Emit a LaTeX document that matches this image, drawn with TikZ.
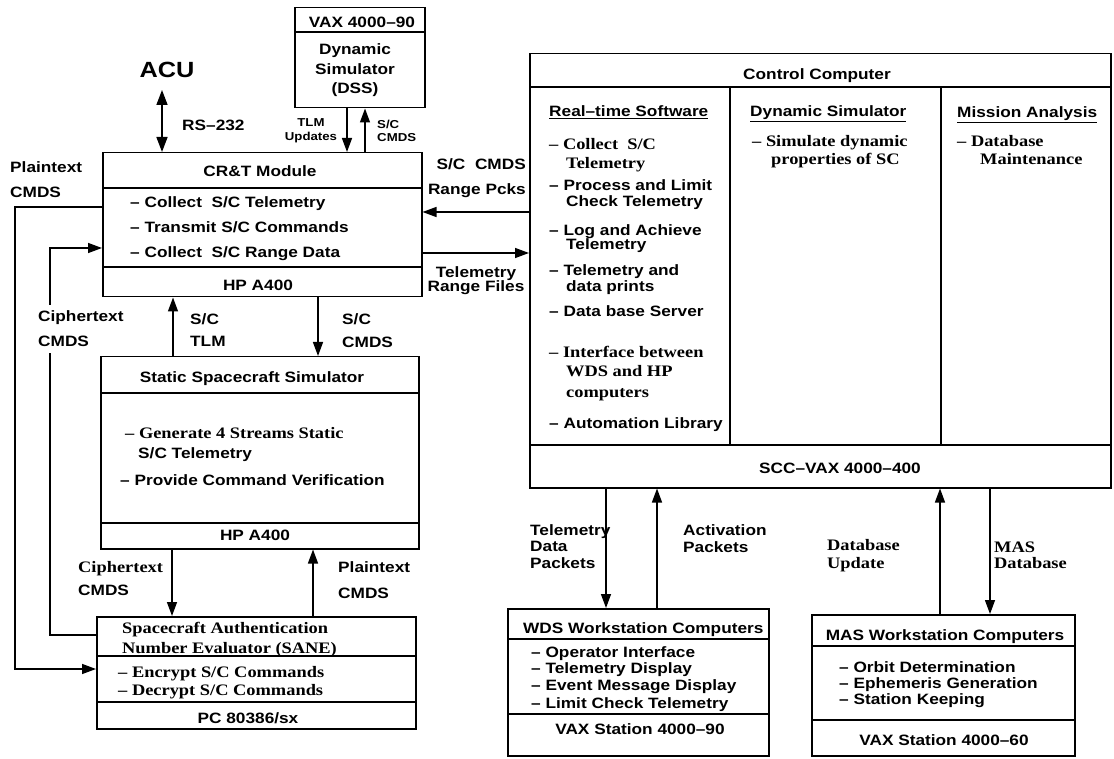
\documentclass[tikz,border=0pt]{standalone}
\usepackage{fontspec}
\newfontfamily\hv[FakeStretch=1.15]{Liberation Sans}
\newfontfamily\tm[FakeStretch=1.15]{Liberation Serif}
\usetikzlibrary{arrows.meta}
\begin{document}
\begin{tikzpicture}[x=1pt,y=-1pt,
  sf/.style={font=\hv\bfseries\fontsize{15}{17}\selectfont, inner sep=0pt},
  rm/.style={font=\tm\bfseries\fontsize{16}{18}\selectfont, inner sep=0pt},
  sm/.style={font=\hv\bfseries\fontsize{11.5}{13}\selectfont, inner sep=0pt},
  big/.style={font=\hv\bfseries\fontsize{22}{24}\selectfont, inner sep=0pt},
  L/.style={anchor=base west},
  C/.style={anchor=base},
  R/.style={anchor=base east},
  box/.style={draw, line width=1.5pt, inner sep=0pt, anchor=north west},
  sep/.style={line width=1.5pt},
  arr/.style={line width=1.4pt, -{Triangle[length=14pt,width=10pt]}},
  dblarr/.style={line width=1.6pt, {Triangle[length=15pt,width=11pt]}-{Triangle[length=15pt,width=11pt]}},
  wlbl/.style={fill=white, inner xsep=1pt, inner ysep=6pt}
]
\useasboundingbox (0,0) rectangle (1114,759);
\fill[white] (0,0) rectangle (1114,759);

% ---------------- boxes ----------------
\node[box, minimum width=130pt, minimum height=100pt] (vax) at (294,7) {};
\node[box, minimum width=319pt, minimum height=144pt] (crt) at (102,152) {};
\node[box, minimum width=318pt, minimum height=192pt] (ssim) at (100,356) {};
\node[box, minimum width=319pt, minimum height=112pt] (sane) at (96,616) {};
\node[box, minimum width=581pt, minimum height=434pt] (ctrl) at (529,53) {};
\node[box, minimum width=261pt, minimum height=147pt] (wds) at (507,608) {};
\node[box, minimum width=263pt, minimum height=141pt] (mas) at (811,614) {};

% ---------------- separators ----------------
\draw[sep] (vax.west |- 0,32) -- (vax.east |- 0,32);
\draw[sep] (crt.west |- 0,188) -- (crt.east |- 0,188);
\draw[sep] (crt.west |- 0,267) -- (crt.east |- 0,267);
\draw[sep] (ssim.west |- 0,393) -- (ssim.east |- 0,393);
\draw[sep] (ssim.west |- 0,523) -- (ssim.east |- 0,523);
\draw[sep] (sane.west |- 0,656) -- (sane.east |- 0,656);
\draw[sep] (sane.west |- 0,702) -- (sane.east |- 0,702);
\draw[sep] (ctrl.west |- 0,87) -- (ctrl.east |- 0,87);
\draw[sep] (ctrl.west |- 0,445) -- (ctrl.east |- 0,445);
\draw[sep] (730,87) -- (730,445);
\draw[sep] (941,87) -- (941,445);
\draw[sep] (wds.west |- 0,639) -- (wds.east |- 0,639);
\draw[sep] (wds.west |- 0,714) -- (wds.east |- 0,714);
\draw[sep] (mas.west |- 0,646) -- (mas.east |- 0,646);
\draw[sep] (mas.west |- 0,720) -- (mas.east |- 0,720);

% ---------------- connectors ----------------
\coordinate (acuA) at (162,90);
\draw[dblarr] (acuA) -- (acuA |- crt.north);
\draw[arr] (vax.south -| 347,0) -- (crt.north -| 347,0);
\draw[arr] (crt.north -| 365,0) -- (vax.south -| 365,0);
\draw[arr] (ctrl.west |- 0,212) -- (crt.east |- 0,212);
\draw[arr] (crt.east |- 0,253) -- (ctrl.west |- 0,253);
\draw[arr] (crt.west |- 0,207) -| (15,669) -- (sane.west |- 0,669);
\draw[arr] (sane.west |- 0,635) -| (50,248) -- (crt.west |- 0,248);
\draw[arr] (ssim.north -| 173,0) -- (crt.south -| 173,0);
\draw[arr] (crt.south -| 318,0) -- (ssim.north -| 318,0);
\draw[arr] (ssim.south -| 172,0) -- (sane.north -| 172,0);
\draw[arr] (sane.north -| 313,0) -- (ssim.south -| 313,0);
\draw[arr] (ctrl.south -| 606,0) -- (wds.north -| 606,0);
\draw[arr] (wds.north -| 657,0) -- (ctrl.south -| 657,0);
\draw[arr] (mas.north -| 940,0) -- (ctrl.south -| 940,0);
\draw[arr] (ctrl.south -| 990,0) -- (mas.north -| 990,0);

% ---------------- VAX / DSS ----------------
\node[sf,C] (vaxT) at (362,28) {VAX 4000–90};
\node[sf,C] (dss1) at (355,55) {Dynamic};
\node[sf,C] (dss2) at (355,75) {Simulator};
\node[sf,C] (dss3) at (355,94) {(DSS)};
\node[big,C] (acu) at (167,78) {ACU};
\node[sf,L] (rs) at (182,131) {RS–232};
\node[sm,C] (tlmA) at (311,127) {TLM};
\node[sm,C] (tlmB) at (311,141) {Updates};
\node[sm,L] (scA) at (377,129) {S/C};
\node[sm,L] (scB) at (377,142) {CMDS};

% ---------------- CR&T ----------------
\node[sf,C] (crtT) at (260,177) {CR\&T Module};
\node[sf,L] (crt1) at (130,208) {– Collect~~S/C Telemetry};
\node[sf,L] (crt2) at (130,233) {– Transmit S/C Commands};
\node[sf,L] (crt3) at (130,258) {– Collect~~S/C Range Data};
\node[sf,C] (crtH) at (258,291) {HP A400};
\node[sf,L] (ptA) at (10,173) {Plaintext};
\node[sf,L] (ptB) at (10,198) {CMDS};
\node[sf,L,wlbl] (ctA) at (37,322) {Ciphertext};
\node[sf,L,wlbl] (ctB) at (37,347) {CMDS};

% ---------------- right of CR&T ----------------
\node[sf,R] (rpA) at (526,170) {S/C~~CMDS};
\node[sf,R] (rpB) at (526,195) {Range Pcks};
\node[sf,C] (rfA) at (476,278) {Telemetry};
\node[sf,C] (rfB) at (476,292) {Range Files};

% ---------------- between CR&T and static ----------------
\node[sf,L] (stA) at (190,325) {S/C};
\node[sf,L] (stB) at (190,347) {TLM};
\node[sf,L] (scmA) at (342,325) {S/C};
\node[sf,L] (scmB) at (342,348) {CMDS};

% ---------------- static simulator ----------------
\node[sf,C] (ssT) at (252,382) {Static Spacecraft Simulator};
\node[rm,L] (ss1) at (125,438) {– Generate 4 Streams Static};
\node[sf,L] (ss2) at (138,458) {S/C Telemetry};
\node[sf,L] (ss3) at (120,485) {– Provide Command Verification};
\node[sf,C] (ssH) at (255,540) {HP A400};

% ---------------- between static and SANE ----------------
\node[rm,L] (cbA) at (78,572) {Ciphertext};
\node[sf,L] (cbB) at (78,595) {CMDS};
\node[sf,L] (pbA) at (338,572) {Plaintext};
\node[sf,L] (pbB) at (338,598) {CMDS};

% ---------------- SANE ----------------
\node[rm,L] (sa1) at (122,633) {Spacecraft Authentication};
\node[rm,L] (sa2) at (122,653) {Number Evaluator (SANE)};
\node[rm,L] (sa3) at (118,677) {– Encrypt S/C Commands};
\node[rm,L] (sa4) at (118,695) {– Decrypt S/C Commands};
\node[sf,C] (saH) at (248,723) {PC 80386/sx};

% ---------------- control computer ----------------
\node[sf,C] (ccT) at (817,80) {Control Computer};
\node[sf,L] (h1) at (549,117) {\underline{Real–time Software}};
\node[sf,L] (h2) at (750,117) {\underline{Dynamic Simulator}};
\node[sf,L] (h3) at (957,118) {\underline{Mission Analysis}};
\node[rm,L] (r1a) at (549,150) {– Collect~~S/C};
\node[rm,L] (r1b) at (566,169) {Telemetry};
\node[sf,L] (r2a) at (549,191) {– Process and Limit};
\node[sf,L] (r2b) at (566,207) {Check Telemetry};
\node[sf,L] (r3a) at (549,236) {– Log and Achieve};
\node[sf,L] (r3b) at (566,250) {Telemetry};
\node[sf,L] (r4a) at (549,276) {– Telemetry and};
\node[sf,L] (r4b) at (566,292) {data prints};
\node[sf,L] (r5) at (549,317) {– Data base Server};
\node[rm,L] (r6a) at (549,357) {– Interface between};
\node[rm,L] (r6b) at (566,377) {WDS and HP};
\node[rm,L] (r6c) at (566,397) {computers};
\node[sf,L] (r7) at (549,428) {– Automation Library};
\node[rm,L] (d1a) at (752,147) {– Simulate dynamic};
\node[rm,L] (d1b) at (771,165) {properties of SC};
\node[rm,L] (m1a) at (957,147) {– Database};
\node[rm,L] (m1b) at (980,165) {Maintenance};
\node[sf,C] (ccH) at (840,473) {SCC–VAX 4000–400};

% ---------------- bottom labels ----------------
\node[sf,L] (tdA) at (530,535) {Telemetry};
\node[sf,L] (tdB) at (530,551) {Data};
\node[sf,L] (tdC) at (530,568) {Packets};
\node[sf,L] (apA) at (683,535) {Activation};
\node[sf,L] (apB) at (683,552) {Packets};
\node[rm,L] (duA) at (827,550) {Database};
\node[rm,L] (duB) at (827,568) {Update};
\node[rm,L] (mdA) at (994,552) {MAS};
\node[rm,L] (mdB) at (994,568) {Database};

% ---------------- WDS ----------------
\node[sf,L] (wT) at (523,633) {WDS Workstation Computers};
\node[sf,L] (w1) at (531,657) {– Operator Interface};
\node[sf,L] (w2) at (531,673) {– Telemetry Display};
\node[sf,L] (w3) at (531,690) {– Event Message Display};
\node[sf,L] (w4) at (531,708) {– Limit Check Telemetry};
\node[sf,C] (wH) at (640,734) {VAX Station 4000–90};

% ---------------- MAS ----------------
\node[sf,C] (mT) at (945,640) {MAS Workstation Computers};
\node[sf,L] (ma1) at (839,672) {– Orbit Determination};
\node[sf,L] (ma2) at (839,688) {– Ephemeris Generation};
\node[sf,L] (ma3) at (839,704) {– Station Keeping};
\node[sf,C] (mH) at (944,745) {VAX Station 4000–60};
\end{tikzpicture}
\end{document}
